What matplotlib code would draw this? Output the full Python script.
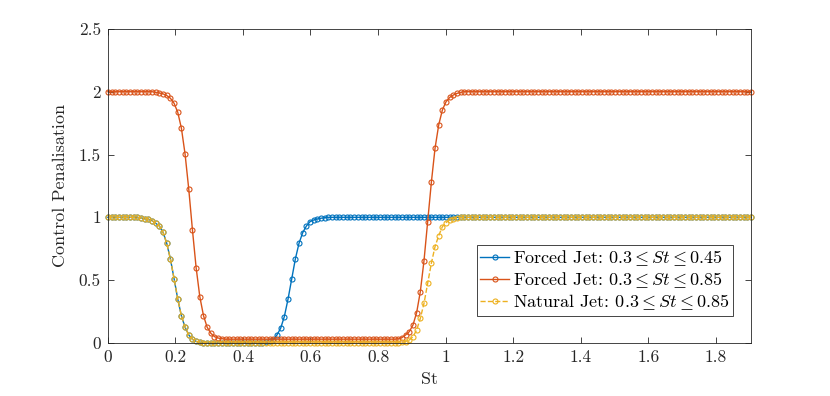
import numpy as np
import matplotlib
matplotlib.use("Agg")
import matplotlib.pyplot as plt
from matplotlib.ticker import FuncFormatter

## Strouhal grid, 176 samples from 0 to 1.905
St = np.linspace(0, 1.905, 176)

## Forced jet, 0.3 <= St <= 0.45
forced_045 = ([1.0]*9
              + [0.995, 0.99, 0.985, 0.974, 0.953, 0.931, 0.881, 0.794, 0.669,
                 0.512, 0.350, 0.215, 0.125, 0.064, 0.029, 0.012, 0.006, 0.003]
              + [0.0]*16
              + [0.005, 0.012]
              + [0.024, 0.064, 0.117, 0.21, 0.348, 0.507, 0.669, 0.794, 0.878,
                 0.931, 0.966, 0.979, 0.987, 0.993, 0.997]
              + [1.0]*116)

## Forced jet, 0.3 <= St <= 0.85
forced_085 = ([2.0]*13
              + [1.995, 1.99, 1.983, 1.97, 1.948, 1.908, 1.837, 1.709, 1.502,
                 1.224, 0.900, 0.600, 0.369, 0.218, 0.125, 0.077, 0.050, 0.039, 0.034]
              + [0.03]*47
              + [0.032, 0.042, 0.064, 0.09, 0.143, 0.242, 0.409, 0.656, 0.966,
                 1.279, 1.550, 1.736, 1.855, 1.921, 1.955, 1.974, 1.987, 1.995]
              + [2.0]*79)

## Natural jet, 0.3 <= St <= 0.85
natural_085 = ([1.0]*9
               + [0.995, 0.99, 0.985, 0.974, 0.953, 0.931, 0.881, 0.794, 0.669,
                  0.512, 0.350, 0.215, 0.125, 0.064, 0.029, 0.012, 0.006, 0.003]
               + [0.0]*52
               + [0.003]
               + [0.005, 0.01, 0.024, 0.05, 0.103, 0.196, 0.316, 0.475, 0.635,
                  0.767, 0.854, 0.926, 0.958, 0.98, 0.99, 0.997]
               + [1.0]*80)

labels = [r'Forced Jet: $0.3 \leq St \leq 0.45$',
          r'Forced Jet: $0.3 \leq St \leq 0.85$',
          r'Natural Jet: $0.3 \leq St \leq 0.85$']
colors = ['#0072BD', '#D95319', '#EDB120']
styles = ['-', '-', '--']

xticks = [0, 0.2, 0.4, 0.6, 0.8, 1, 1.2, 1.4, 1.6, 1.8]
yticks = [0, 0.5, 1, 1.5, 2, 2.5]


def main():
    plt.rcParams['font.family'] = 'serif'
    plt.rcParams['font.serif'] = ['cmr10']
    plt.rcParams['mathtext.fontset'] = 'cm'
    plt.rcParams['axes.formatter.use_mathtext'] = True

    fig = plt.figure(figsize=(8.3, 3.96), dpi=100)
    ax = fig.add_axes([0.130, 0.134, 0.775, 0.793])

    series = [forced_045, forced_085, natural_085]
    for ys, lab, c, ls in zip(series, labels, colors, styles):
        assert len(ys) == len(St)
        ax.plot(St, ys, ls, color=c, lw=1.0, marker='o', markersize=3.6,
                markerfacecolor='none', markeredgewidth=0.8, label=lab,
                clip_on=False)

    ax.set_xlim(St[0], St[-1])
    ax.set_ylim(0, 2.5)
    ax.set_xticks(xticks)
    ax.set_yticks(yticks)
    fmt = FuncFormatter(lambda v, p: '%g' % v)
    ax.xaxis.set_major_formatter(fmt)
    ax.yaxis.set_major_formatter(fmt)

    for s in ax.spines.values():
        s.set_color('#262626')
        s.set_linewidth(0.6)
    ax.tick_params(direction='in', length=4, width=0.6, color='#262626',
                   labelcolor='#262626', labelsize=12.5, top=True, right=True,
                   pad=5)

    ax.set_xlabel('St', fontsize=13, color='#262626', labelpad=5)
    ax.set_ylabel('Control Penalisation', fontsize=13, color='#262626',
                  labelpad=8)

    leg = ax.legend(loc='lower right', bbox_to_anchor=(0.972, 0.086),
                    fontsize=13, fancybox=False, framealpha=1,
                    edgecolor='#262626', handlelength=1.6, handletextpad=0.2,
                    borderpad=0.2, labelspacing=0.15, borderaxespad=0)
    leg.get_frame().set_linewidth(0.6)

    fig.savefig('out.png', dpi=100)


if __name__ == "__main__":
    main()
